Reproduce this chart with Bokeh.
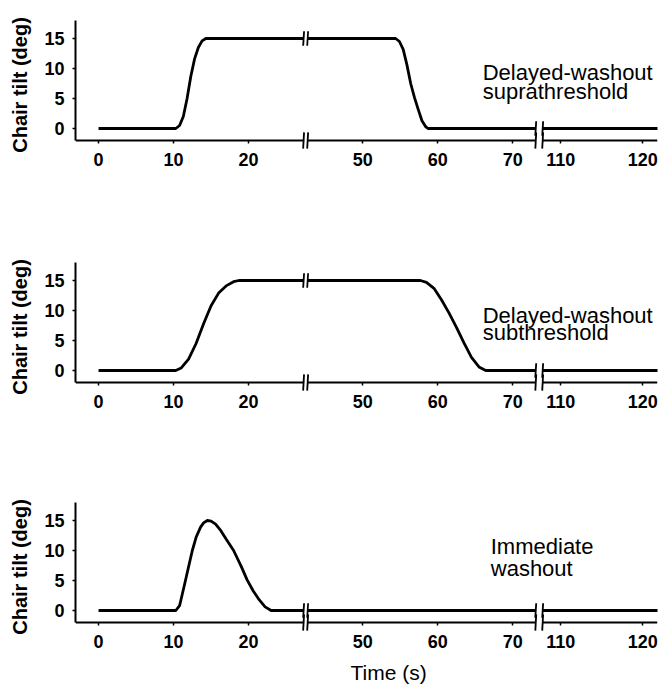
import numpy as np
from bokeh.plotting import figure
from bokeh.layouts import column
from bokeh.models import (ColumnDataSource, LinearInterpolator, FixedTicker, Arrow,
                          Label, Range1d)
from bokeh.transform import transform
from bokeh.embed import file_html
from bokeh.resources import INLINE

# ---------------- data ----------------
supra_t = [0, 10.3, 10.8, 11.3, 11.8, 12.3, 12.8, 13.3, 13.8, 14.3,
           54.4, 54.9, 55.4, 55.9, 56.4, 56.9, 57.4, 57.9, 58.4, 58.7, 122]
supra_deg = [0, 0, 0.5, 2.0, 5.0, 8.7, 11.6, 13.5, 14.6, 15,
             15, 14.5, 13.2, 10.6, 7.5, 5.2, 3.2, 1.3, 0.3, 0, 0]

sub_t = [0, 10.3, 11.0, 12.0, 13.0, 14.0, 15.0, 16.0, 17.0, 18.0, 18.7,
         57.7, 58.5, 59.5, 60.5, 61.5, 62.5, 63.5, 64.5, 65.5, 66.4, 122]
sub_deg = [0, 0, 0.4, 1.9, 4.5, 7.8, 10.8, 12.9, 14.1, 14.8, 15,
           15, 14.7, 13.7, 11.8, 9.6, 7.2, 4.6, 2.2, 0.6, 0, 0]

imm_t = [0, 10.3, 10.8, 11.4, 12.0, 12.5, 13.0, 13.6, 14.0, 14.5,
         15.0, 15.6, 16.3, 17.0, 18.0, 19.0, 19.8, 20.6, 21.4, 22.2, 23.0, 122]
imm_deg = [0, 0, 0.8, 4.0, 7.3, 10.0, 12.2, 13.9, 14.6, 15,
           14.9, 14.4, 13.3, 11.9, 10.0, 7.4, 5.1, 3.3, 1.8, 0.6, 0, 0]

panel_text = [("Delayed-washout", "suprathreshold"),
              ("Delayed-washout", "subthreshold"),
              ("Immediate", "washout")]
x_tick_values = [0, 10, 20, 50, 60, 70, 110, 120]
y_tick_values = [0, 5, 10, 15]
y_label = "Chair tilt (deg)"
x_label = "Time (s)"

# ---------------- broken-axis layout ----------------
seg_t = [(-3.07, 27.33), (42.67, 73.07), (107.8, 121.8)]   # time windows shown
seg_scale = [1.0, 1.0, 1.093]
seg_gap = [0.54, 0.92]

knot_t, knot_d, seg_d = [], [], []
d = seg_t[0][0]
for i, ((a, b), s) in enumerate(zip(seg_t, seg_scale)):
    if i > 0:
        d += seg_gap[i - 1]
    start = d
    d = start + (b - a) * s
    seg_d.append((start, d))
    knot_t += [a, b]
    knot_d += [start, d]
knot_t.append(seg_t[-1][1] + 10)
knot_d.append(seg_d[-1][1] + 10 * seg_scale[-1])
knot_t.insert(0, seg_t[0][0] - 10)
knot_d.insert(0, seg_d[0][0] - 10)

def to_d(t):
    return float(np.interp(t, knot_t, knot_d))

mapper = LinearInterpolator(x=knot_t, y=knot_d, clip=False)
tick_pos = [round(to_d(v), 4) for v in x_tick_values]
tick_over = {p_: str(v) for p_, v in zip(tick_pos, x_tick_values)}

FONT = "Liberation Sans"
W = 658
LEFT, RIGHT = 75, 1
Y_AX = -2          # where the x axis sits
Y0, Y1 = -3.5, 18  # frame range (room for break marks under the axis)
PX_PER_DEG = 6
AX_GAP = int(round((Y_AX - Y0) * PX_PER_DEG))   # px between axis line and frame bottom

# (t, v, text, text y, text x (s), height, top border, bottom border)
rows_cfg = [
    (supra_t, supra_deg, panel_text[0], (9.4, 6.2), 66.0, 248, 20, 99),
    (sub_t, sub_deg, panel_text[1], (9.2, 6.4), 66.0, 240, 14, 97),
    (imm_t, imm_deg, panel_text[2], (10.7, 7.0), 67.07, 203, 14, 60),
]

figs = []
for r, (t, v, txt, ty, tx, h, bt, bb) in enumerate(rows_cfg):
    p = figure(width=W, height=h,
               x_range=Range1d(seg_d[0][0], seg_d[-1][1]), y_range=Range1d(Y0, Y1),
               output_backend="svg", toolbar_location=None,
               min_border_left=LEFT, min_border_right=RIGHT,
               min_border_top=bt, min_border_bottom=bb)
    p.outline_line_color = None
    p.xgrid.visible = False
    p.ygrid.visible = False
    p.background_fill_color = "white"
    p.border_fill_color = "white"

    src = ColumnDataSource(dict(t=t, v=v))
    p.line(x=transform("t", mapper), y="v", source=src, line_color="black",
           line_width=2.8, line_join="round")

    # white gaps at the breaks
    for i in range(len(seg_d) - 1):
        p.quad(left=seg_d[i][1], right=seg_d[i + 1][0], bottom=Y0, top=Y1,
               fill_color="white", line_color=None)

    # x-axis line pieces
    ax = ColumnDataSource(dict(x0=[s[0] for s in seg_d], x1=[s[1] for s in seg_d],
                               y=[Y_AX] * len(seg_d)))
    p.add_layout(Arrow(start=None, end=None, x_start="x0", y_start="y", x_end="x1",
                       y_end="y", source=ax, line_color="black", line_width=2))

    # break marks
    bx0, by0, bx1, by1 = [], [], [], []
    for i in range(len(seg_d) - 1):
        for tb, db in ((seg_t[i][1], seg_d[i][1]), (seg_t[i + 1][0], seg_d[i + 1][0])):
            lvl = float(np.interp(tb, t, v))
            for yc, hh in ((lvl, 1.2), (Y_AX, 1.35)):
                bx0.append(db - 0.06); by0.append(yc - hh)
                bx1.append(db + 0.06); by1.append(yc + hh)
    bsrc = ColumnDataSource(dict(x0=bx0, y0=by0, x1=bx1, y1=by1))
    p.add_layout(Arrow(start=None, end=None, x_start="x0", y_start="y0", x_end="x1",
                       y_end="y1", source=bsrc, line_color="black", line_width=1.8))

    # annotation text
    for line_txt, yy in zip(txt, ty):
        p.add_layout(Label(x=to_d(tx), y=yy, text=line_txt, text_font=FONT,
                           text_font_size="22px", text_color="black",
                           text_align="left", text_baseline="alphabetic"))

    # axes: x axis sits at the frame bottom, its ticks are pulled up to the drawn line
    xa = p.xaxis[0]
    xa.ticker = FixedTicker(ticks=tick_pos)
    xa.major_label_overrides = tick_over
    xa.axis_line_color = None
    xa.major_tick_in = AX_GAP
    xa.major_tick_out = 3 - AX_GAP
    xa.major_tick_line_width = 1.5
    xa.minor_tick_line_color = None
    xa.major_label_standoff = AX_GAP - 6
    xa.major_label_text_font = FONT
    xa.major_label_text_font_style = "bold"
    xa.major_label_text_font_size = "18px"
    xa.major_label_text_color = "black"

    ya = p.yaxis[0]
    ya.ticker = FixedTicker(ticks=y_tick_values)
    ya.bounds = (Y_AX, Y1)
    ya.axis_line_width = 2
    ya.axis_line_color = "black"
    ya.major_tick_in = 0
    ya.major_tick_out = 3
    ya.major_tick_line_width = 1.5
    ya.minor_tick_line_color = None
    ya.major_label_standoff = 8
    ya.major_label_text_font = FONT
    ya.major_label_text_font_style = "bold"
    ya.major_label_text_font_size = "18px"
    ya.major_label_text_color = "black"
    ya.axis_label = y_label
    ya.axis_label_text_font = FONT
    ya.axis_label_text_font_style = "bold"
    ya.axis_label_text_font_size = "20px"
    ya.axis_label_text_color = "black"
    ya.axis_label_standoff = 10

    if r == len(rows_cfg) - 1:
        p.title_location = "below"
        p.title.text = x_label
        p.title.align = "left"
        p.title.offset = 275
        p.title.standoff = 16
        p.title.text_font = FONT
        p.title.text_font_size = "21px"
        p.title.text_font_style = "normal"
        p.title.text_color = "black"
    figs.append(p)

layout = column(*figs, spacing=0)
open("out.html", "w").write(file_html(layout, INLINE))
